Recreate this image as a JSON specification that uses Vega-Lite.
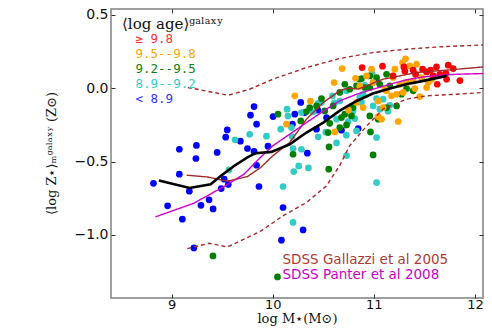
{
"$schema": "https://vega.github.io/schema/vega-lite/v6.json",
"width": 372, "height": 289,
"autosize": {"type": "none"},
"padding": {"left": 111, "top": 9, "right": 9, "bottom": 31},
"background": "white",
"config": {
 "view": {"stroke": "#808080", "strokeWidth": 1.5},
 "font": "DejaVu Sans",
 "axis": {"grid": false, "domain": false, "tickColor": "#333333", "tickSize": -4, "tickWidth": 1, "labelFont": "DejaVu Sans", "labelFontSize": 13, "labelColor": "#111111"}
},
"datasets": {
 "pts": [
  {"m":9.815,"z":-0.125,"a":"< 8.9"},{"m":9.78,"z":-0.184,"a":"< 8.9"},{"m":9.84,"z":-0.245,"a":"< 8.9"},{"m":9.55,"z":-0.284,"a":"< 8.9"},{"m":9.535,"z":-0.334,"a":"< 8.9"},{"m":9.68,"z":-0.361,"a":"< 8.9"},{"m":9.245,"z":-0.39,"a":"< 8.9"},{"m":9.076,"z":-0.416,"a":"< 8.9"},{"m":9.45,"z":-0.438,"a":"< 8.9"},{"m":9.75,"z":-0.411,"a":"< 8.9"},{"m":9.815,"z":-0.431,"a":"< 8.9"},{"m":9.24,"z":-0.479,"a":"< 8.9"},{"m":9.84,"z":-0.525,"a":"< 8.9"},{"m":9.076,"z":-0.586,"a":"< 8.9"},{"m":9.52,"z":-0.62,"a":"< 8.9"},{"m":8.82,"z":-0.648,"a":"< 8.9"},{"m":9.56,"z":-0.656,"a":"< 8.9"},{"m":9.49,"z":-0.684,"a":"< 8.9"},{"m":9.175,"z":-0.702,"a":"< 8.9"},{"m":9.864,"z":-0.67,"a":"< 8.9"},{"m":9.37,"z":-0.761,"a":"< 8.9"},{"m":8.96,"z":-0.802,"a":"< 8.9"},{"m":9.29,"z":-0.798,"a":"< 8.9"},{"m":9.41,"z":-0.823,"a":"< 8.9"},{"m":9.106,"z":-0.893,"a":"< 8.9"},{"m":9.22,"z":-1.089,"a":"< 8.9"},{"m":10.003,"z":-0.193,"a":"< 8.9"},{"m":10.277,"z":-0.097,"a":"< 8.9"},{"m":10.218,"z":-0.177,"a":"< 8.9"},{"m":10.317,"z":-0.166,"a":"< 8.9"},{"m":10.446,"z":-0.15,"a":"< 8.9"},{"m":10.532,"z":-0.2,"a":"< 8.9"},{"m":10.433,"z":-0.279,"a":"< 8.9"},{"m":10.195,"z":-0.245,"a":"< 8.9"},{"m":9.953,"z":-0.395,"a":"< 8.9"},{"m":10.342,"z":-0.443,"a":"< 8.9"},{"m":10.68,"z":-0.286,"a":"< 8.9"},{"m":10.845,"z":-0.275,"a":"< 8.9"},{"m":11.027,"z":0.048,"a":"< 8.9"},{"m":10.102,"z":-0.813,"a":"< 8.9"},{"m":10.3,"z":-0.966,"a":"< 8.9"},{"m":10.086,"z":-1.036,"a":"< 8.9"},
  {"m":10.983,"z":0.102,"a":"8.9--9.2"},{"m":10.911,"z":0.02,"a":"8.9--9.2"},{"m":10.591,"z":-0.052,"a":"8.9--9.2"},{"m":10.482,"z":-0.097,"a":"8.9--9.2"},{"m":10.399,"z":-0.162,"a":"8.9--9.2"},{"m":10.284,"z":-0.166,"a":"8.9--9.2"},{"m":10.142,"z":-0.143,"a":"8.9--9.2"},{"m":10.079,"z":-0.279,"a":"8.9--9.2"},{"m":9.938,"z":-0.327,"a":"8.9--9.2"},{"m":9.772,"z":-0.314,"a":"8.9--9.2"},{"m":10.185,"z":-0.268,"a":"8.9--9.2"},{"m":10.284,"z":-0.416,"a":"8.9--9.2"},{"m":10.449,"z":-0.331,"a":"8.9--9.2"},{"m":10.525,"z":-0.3,"a":"8.9--9.2"},{"m":10.631,"z":-0.373,"a":"8.9--9.2"},{"m":10.728,"z":-0.32,"a":"8.9--9.2"},{"m":10.812,"z":-0.207,"a":"8.9--9.2"},{"m":11.027,"z":-0.336,"a":"8.9--9.2"},{"m":10.73,"z":-0.459,"a":"8.9--9.2"},{"m":11.092,"z":-0.075,"a":"8.9--9.2"},{"m":11.158,"z":-0.116,"a":"8.9--9.2"},{"m":10.993,"z":-0.121,"a":"8.9--9.2"},{"m":10.663,"z":-0.087,"a":"8.9--9.2"},{"m":10.861,"z":-0.063,"a":"8.9--9.2"},{"m":11.14,"z":-0.157,"a":"8.9--9.2"},{"m":10.201,"z":-0.412,"a":"8.9--9.2"},{"m":10.257,"z":-0.53,"a":"8.9--9.2"},{"m":10.208,"z":-0.568,"a":"8.9--9.2"},{"m":10.353,"z":-0.543,"a":"8.9--9.2"},{"m":10.102,"z":-0.67,"a":"8.9--9.2"},{"m":10.201,"z":-0.915,"a":"8.9--9.2"},{"m":11.027,"z":-0.643,"a":"8.9--9.2"},{"m":10.829,"z":-0.291,"a":"8.9--9.2"},{"m":10.993,"z":0.039,"a":"8.9--9.2"},{"m":10.894,"z":-0.041,"a":"8.9--9.2"},{"m":11.027,"z":-0.07,"a":"8.9--9.2"},{"m":11.059,"z":-0.143,"a":"8.9--9.2"},{"m":10.878,"z":-0.097,"a":"8.9--9.2"},{"m":10.795,"z":-0.155,"a":"8.9--9.2"},{"m":9.627,"z":-0.352,"a":"8.9--9.2"},{"m":9.567,"z":-0.557,"a":"8.9--9.2"},{"m":10.61,"z":-0.1,"a":"8.9--9.2"},{"m":10.77,"z":-0.125,"a":"8.9--9.2"},{"m":10.746,"z":-0.227,"a":"8.9--9.2"},{"m":10.631,"z":-0.211,"a":"8.9--9.2"},{"m":10.15,"z":-0.19,"a":"8.9--9.2"},{"m":10.449,"z":-0.104,"a":"8.9--9.2"},{"m":10.73,"z":-0.018,"a":"8.9--9.2"},{"m":10.191,"z":-0.329,"a":"8.9--9.2"},
  {"m":10.482,"z":-0.07,"a":"9.2--9.5"},{"m":10.366,"z":-0.132,"a":"9.2--9.5"},{"m":10.334,"z":-0.159,"a":"9.2--9.5"},{"m":10.052,"z":-0.177,"a":"9.2--9.5"},{"m":10.557,"z":-0.4,"a":"9.2--9.5"},{"m":10.201,"z":-0.45,"a":"9.2--9.5"},{"m":10.993,"z":-0.455,"a":"9.2--9.5"},{"m":10.861,"z":0.061,"a":"9.2--9.5"},{"m":11.027,"z":0.073,"a":"9.2--9.5"},{"m":11.126,"z":0.095,"a":"9.2--9.5"},{"m":11.059,"z":0.027,"a":"9.2--9.5"},{"m":10.713,"z":0.027,"a":"9.2--9.5"},{"m":10.663,"z":-0.029,"a":"9.2--9.5"},{"m":10.762,"z":-0.007,"a":"9.2--9.5"},{"m":10.96,"z":0.005,"a":"9.2--9.5"},{"m":11.158,"z":0.016,"a":"9.2--9.5"},{"m":11.324,"z":-0.002,"a":"9.2--9.5"},{"m":11.389,"z":-0.018,"a":"9.2--9.5"},{"m":11.225,"z":-0.121,"a":"9.2--9.5"},{"m":10.96,"z":-0.189,"a":"9.2--9.5"},{"m":11.043,"z":-0.211,"a":"9.2--9.5"},{"m":10.967,"z":-0.298,"a":"9.2--9.5"},{"m":10.795,"z":-0.132,"a":"9.2--9.5"},{"m":10.713,"z":-0.177,"a":"9.2--9.5"},{"m":10.779,"z":-0.189,"a":"9.2--9.5"},{"m":10.515,"z":-0.155,"a":"9.2--9.5"},{"m":10.597,"z":-0.121,"a":"9.2--9.5"},{"m":10.68,"z":-0.2,"a":"9.2--9.5"},{"m":10.433,"z":-0.121,"a":"9.2--9.5"},{"m":10.663,"z":-0.268,"a":"9.2--9.5"},{"m":10.548,"z":-0.302,"a":"9.2--9.5"},{"m":10.277,"z":-0.223,"a":"9.2--9.5"},{"m":10.564,"z":-0.239,"a":"9.2--9.5"},{"m":10.73,"z":-0.25,"a":"9.2--9.5"},{"m":10.554,"z":-0.552,"a":"9.2--9.5"},{"m":10.047,"z":-1.286,"a":"9.2--9.5"},{"m":11.126,"z":-0.132,"a":"9.2--9.5"},{"m":10.878,"z":0.066,"a":"9.2--9.5"},{"m":10.911,"z":0.005,"a":"9.2--9.5"},{"m":11.274,"z":-0.041,"a":"9.2--9.5"},{"m":10.829,"z":0.016,"a":"9.2--9.5"},{"m":10.96,"z":0.084,"a":"9.2--9.5"},{"m":9.409,"z":-1.143,"a":"9.2--9.5"},
  {"m":10.686,"z":0.134,"a":"9.5--9.8"},{"m":10.607,"z":0.039,"a":"9.5--9.8"},{"m":10.218,"z":-0.052,"a":"9.5--9.8"},{"m":10.373,"z":-0.087,"a":"9.5--9.8"},{"m":11.284,"z":0.175,"a":"9.5--9.8"},{"m":11.314,"z":0.201,"a":"9.5--9.8"},{"m":11.208,"z":0.13,"a":"9.5--9.8"},{"m":11.356,"z":0.152,"a":"9.5--9.8"},{"m":11.423,"z":0.164,"a":"9.5--9.8"},{"m":10.819,"z":0.068,"a":"9.5--9.8"},{"m":10.928,"z":0.084,"a":"9.5--9.8"},{"m":10.977,"z":0.13,"a":"9.5--9.8"},{"m":10.993,"z":0.039,"a":"9.5--9.8"},{"m":11.191,"z":0.073,"a":"9.5--9.8"},{"m":11.257,"z":0.027,"a":"9.5--9.8"},{"m":11.324,"z":0.039,"a":"9.5--9.8"},{"m":11.389,"z":0.05,"a":"9.5--9.8"},{"m":11.472,"z":0.073,"a":"9.5--9.8"},{"m":11.538,"z":0.039,"a":"9.5--9.8"},{"m":11.522,"z":0.005,"a":"9.5--9.8"},{"m":11.455,"z":-0.057,"a":"9.5--9.8"},{"m":11.225,"z":-0.041,"a":"9.5--9.8"},{"m":11.29,"z":-0.029,"a":"9.5--9.8"},{"m":11.126,"z":-0.018,"a":"9.5--9.8"},{"m":11.175,"z":-0.052,"a":"9.5--9.8"},{"m":11.109,"z":-0.007,"a":"9.5--9.8"},{"m":10.894,"z":-0.132,"a":"9.5--9.8"},{"m":10.75,"z":-0.15,"a":"9.5--9.8"},{"m":10.829,"z":-0.097,"a":"9.5--9.8"},{"m":11.043,"z":-0.087,"a":"9.5--9.8"},{"m":11.092,"z":-0.132,"a":"9.5--9.8"},{"m":11.076,"z":-0.211,"a":"9.5--9.8"},{"m":11.241,"z":-0.227,"a":"9.5--9.8"},{"m":11.043,"z":-0.193,"a":"9.5--9.8"},{"m":10.136,"z":-0.245,"a":"9.5--9.8"},{"m":10.614,"z":-0.298,"a":"9.5--9.8"},{"m":11.406,"z":-0.002,"a":"9.5--9.8"},{"m":11.571,"z":0.061,"a":"9.5--9.8"},{"m":10.861,"z":0.014,"a":"9.5--9.8"},
  {"m":10.884,"z":0.141,"a":"≥ 9.8"},{"m":11.086,"z":0.15,"a":"≥ 9.8"},{"m":11.297,"z":0.145,"a":"≥ 9.8"},{"m":11.389,"z":0.123,"a":"≥ 9.8"},{"m":11.482,"z":0.13,"a":"≥ 9.8"},{"m":11.561,"z":0.123,"a":"≥ 9.8"},{"m":11.62,"z":0.145,"a":"≥ 9.8"},{"m":11.736,"z":0.157,"a":"≥ 9.8"},{"m":11.785,"z":0.134,"a":"≥ 9.8"},{"m":11.713,"z":0.102,"a":"≥ 9.8"},{"m":11.653,"z":0.095,"a":"≥ 9.8"},{"m":11.413,"z":0.095,"a":"≥ 9.8"},{"m":11.587,"z":0.084,"a":"≥ 9.8"},{"m":11.72,"z":0.061,"a":"≥ 9.8"},{"m":11.851,"z":0.052,"a":"≥ 9.8"},{"m":11.627,"z":0.027,"a":"≥ 9.8"},{"m":11.19,"z":0.084,"a":"≥ 9.8"},{"m":11.307,"z":0.116,"a":"≥ 9.8"},{"m":11.522,"z":0.111,"a":"≥ 9.8"}
 ],
 "lines": [
  {"s":"gal","v":"SDSS Gallazzi et al 2005","d":"solid","m":9.149,"z":-0.593},{"s":"gal","v":"SDSS Gallazzi et al 2005","d":"solid","m":9.353,"z":-0.605},{"s":"gal","v":"SDSS Gallazzi et al 2005","d":"solid","m":9.55,"z":-0.634},{"s":"gal","v":"SDSS Gallazzi et al 2005","d":"solid","m":9.75,"z":-0.602},{"s":"gal","v":"SDSS Gallazzi et al 2005","d":"solid","m":9.88,"z":-0.541},{"s":"gal","v":"SDSS Gallazzi et al 2005","d":"solid","m":10.0,"z":-0.461},{"s":"gal","v":"SDSS Gallazzi et al 2005","d":"solid","m":10.168,"z":-0.37},{"s":"gal","v":"SDSS Gallazzi et al 2005","d":"solid","m":10.334,"z":-0.211},{"s":"gal","v":"SDSS Gallazzi et al 2005","d":"solid","m":10.5,"z":-0.097},{"s":"gal","v":"SDSS Gallazzi et al 2005","d":"solid","m":10.66,"z":-0.018},{"s":"gal","v":"SDSS Gallazzi et al 2005","d":"solid","m":10.74,"z":0.0},{"s":"gal","v":"SDSS Gallazzi et al 2005","d":"solid","m":10.85,"z":-0.005},{"s":"gal","v":"SDSS Gallazzi et al 2005","d":"solid","m":11.09,"z":0.061},{"s":"gal","v":"SDSS Gallazzi et al 2005","d":"solid","m":11.42,"z":0.107},{"s":"gal","v":"SDSS Gallazzi et al 2005","d":"solid","m":11.75,"z":0.125},{"s":"gal","v":"SDSS Gallazzi et al 2005","d":"solid","m":12.08,"z":0.145},
  {"s":"hi","v":"SDSS Gallazzi et al 2005","d":"dash","m":9.16,"z":0.005},{"s":"hi","v":"SDSS Gallazzi et al 2005","d":"dash","m":9.56,"z":-0.048},{"s":"hi","v":"SDSS Gallazzi et al 2005","d":"dash","m":9.77,"z":-0.007},{"s":"hi","v":"SDSS Gallazzi et al 2005","d":"dash","m":10.0,"z":0.061},{"s":"hi","v":"SDSS Gallazzi et al 2005","d":"dash","m":10.334,"z":0.141},{"s":"hi","v":"SDSS Gallazzi et al 2005","d":"dash","m":10.66,"z":0.202},{"s":"hi","v":"SDSS Gallazzi et al 2005","d":"dash","m":10.99,"z":0.243},{"s":"hi","v":"SDSS Gallazzi et al 2005","d":"dash","m":11.32,"z":0.266},{"s":"hi","v":"SDSS Gallazzi et al 2005","d":"dash","m":11.65,"z":0.282},{"s":"hi","v":"SDSS Gallazzi et al 2005","d":"dash","m":12.08,"z":0.295},
  {"s":"lo","v":"SDSS Gallazzi et al 2005","d":"dash","m":9.155,"z":-1.093},{"s":"lo","v":"SDSS Gallazzi et al 2005","d":"dash","m":9.37,"z":-1.057},{"s":"lo","v":"SDSS Gallazzi et al 2005","d":"dash","m":9.55,"z":-1.082},{"s":"lo","v":"SDSS Gallazzi et al 2005","d":"dash","m":9.716,"z":-1.029},{"s":"lo","v":"SDSS Gallazzi et al 2005","d":"dash","m":9.88,"z":-0.975},{"s":"lo","v":"SDSS Gallazzi et al 2005","d":"dash","m":10.1,"z":-0.87},{"s":"lo","v":"SDSS Gallazzi et al 2005","d":"dash","m":10.334,"z":-0.779},{"s":"lo","v":"SDSS Gallazzi et al 2005","d":"dash","m":10.53,"z":-0.666},{"s":"lo","v":"SDSS Gallazzi et al 2005","d":"dash","m":10.66,"z":-0.53},{"s":"lo","v":"SDSS Gallazzi et al 2005","d":"dash","m":10.76,"z":-0.393},{"s":"lo","v":"SDSS Gallazzi et al 2005","d":"dash","m":10.93,"z":-0.257},{"s":"lo","v":"SDSS Gallazzi et al 2005","d":"dash","m":11.09,"z":-0.143},{"s":"lo","v":"SDSS Gallazzi et al 2005","d":"dash","m":11.32,"z":-0.075},{"s":"lo","v":"SDSS Gallazzi et al 2005","d":"dash","m":11.52,"z":-0.052},{"s":"lo","v":"SDSS Gallazzi et al 2005","d":"dash","m":11.82,"z":-0.041},{"s":"lo","v":"SDSS Gallazzi et al 2005","d":"dash","m":12.08,"z":-0.029},
  {"s":"pan","v":"SDSS Panter et al 2008","d":"solid","m":8.84,"z":-0.877},{"s":"pan","v":"SDSS Panter et al 2008","d":"solid","m":9.22,"z":-0.784},{"s":"pan","v":"SDSS Panter et al 2008","d":"solid","m":9.518,"z":-0.67},{"s":"pan","v":"SDSS Panter et al 2008","d":"solid","m":9.716,"z":-0.586},{"s":"pan","v":"SDSS Panter et al 2008","d":"solid","m":9.88,"z":-0.47},{"s":"pan","v":"SDSS Panter et al 2008","d":"solid","m":10.0,"z":-0.393},{"s":"pan","v":"SDSS Panter et al 2008","d":"solid","m":10.334,"z":-0.234},{"s":"pan","v":"SDSS Panter et al 2008","d":"solid","m":10.53,"z":-0.143},{"s":"pan","v":"SDSS Panter et al 2008","d":"solid","m":10.66,"z":-0.087},{"s":"pan","v":"SDSS Panter et al 2008","d":"solid","m":10.83,"z":-0.041},{"s":"pan","v":"SDSS Panter et al 2008","d":"solid","m":10.99,"z":-0.007},{"s":"pan","v":"SDSS Panter et al 2008","d":"solid","m":11.16,"z":0.027},{"s":"pan","v":"SDSS Panter et al 2008","d":"solid","m":11.32,"z":0.057},{"s":"pan","v":"SDSS Panter et al 2008","d":"solid","m":11.49,"z":0.077},{"s":"pan","v":"SDSS Panter et al 2008","d":"solid","m":11.65,"z":0.089},{"s":"pan","v":"SDSS Panter et al 2008","d":"solid","m":11.82,"z":0.095},{"s":"pan","v":"SDSS Panter et al 2008","d":"solid","m":12.08,"z":0.1}
 ],
 "med": [
  {"m":8.874,"z":-0.629},{"m":9.178,"z":-0.68},{"m":9.386,"z":-0.654},{"m":9.485,"z":-0.598},{"m":9.617,"z":-0.53},{"m":9.75,"z":-0.472},{"m":9.83,"z":-0.443},{"m":9.987,"z":-0.434},{"m":10.168,"z":-0.382},{"m":10.334,"z":-0.302},{"m":10.5,"z":-0.234},{"m":10.66,"z":-0.155},{"m":10.83,"z":-0.087},{"m":10.99,"z":-0.036},{"m":11.16,"z":-0.002},{"m":11.32,"z":0.027},{"m":11.49,"z":0.05},{"m":11.72,"z":0.084}
 ]
},
"layer": [
 {
  "data": {"name": "pts"},
  "mark": {"type": "circle", "size": 45, "opacity": 1},
  "encoding": {
   "x": {"field": "m", "type": "quantitative", "scale": {"domain": [8.4, 12.08], "nice": false, "zero": false},
    "axis": {"orient": "bottom", "values": [9, 10, 11, 12], "format": "d", "labelFontSize": 13, "labelPadding": 4, "title": "log M⋆(M⊙)", "titleFont": "DejaVu Serif", "titleFontSize": 13, "titleFontWeight": "normal", "titleColor": "#111111", "titleY": 20, "titleBaseline": "middle"}},
   "y": {"field": "z", "type": "quantitative", "scale": {"domain": [-1.43, 0.54], "nice": false, "zero": false},
    "axis": {"orient": "left", "values": [-1, -0.5, 0, 0.5], "format": ".1f", "labelFontSize": 14, "labelPadding": 7, "title": "⟨log Z⋆⟩ₘᵍᵃˡᵃˣʸ (Z⊙)", "titleFont": "DejaVu Serif", "titleFontSize": 13, "titleFontWeight": "normal", "titleColor": "#111111", "titleX": -60, "titleY": 144, "titleAngle": -90, "titleAlign": "center", "titleBaseline": "middle"}},
   "color": {"field": "a", "type": "nominal",
    "scale": {"domain": ["≥ 9.8", "9.5--9.8", "9.2--9.5", "8.9--9.2", "< 8.9"], "range": ["#ff0000", "#ffa500", "#008000", "#33ccc4", "#0000ff"]},
    "legend": {"title": "⟨log age⟩ᵍᵃˡᵃˣʸ", "orient": "none", "legendX": 11, "legendY": 7.5, "padding": 0, "titleFont": "DejaVu Serif", "titleFontSize": 15, "titleFontWeight": "normal", "titleColor": "#111111", "titlePadding": 1.5, "labelFont": "DejaVu Sans Mono", "labelFontSize": 12.5, "labelOffset": 1, "rowPadding": 2, "symbolSize": 0, "symbolOpacity": 0, "symbolStrokeWidth": 0,
     "labelColor": {"expr": "datum.value == '≥ 9.8' ? '#ff3030' : datum.value == '9.5--9.8' ? '#ffa500' : datum.value == '9.2--9.5' ? '#108010' : datum.value == '8.9--9.2' ? '#33ccc4' : '#3030ff'"}}}
  }
 },
 {
  "data": {"name": "lines"},
  "mark": {"type": "line", "strokeWidth": 1.4, "clip": true},
  "encoding": {
   "x": {"field": "m", "type": "quantitative", "scale": {"domain": [8.4, 12.08], "nice": false, "zero": false},
    "axis": {"orient": "top", "values": [9, 10, 11, 12], "labels": false, "title": null}},
   "y": {"field": "z", "type": "quantitative", "scale": {"domain": [-1.43, 0.54], "nice": false, "zero": false},
    "axis": {"orient": "right", "values": [-1, -0.5, 0, 0.5], "labels": false, "title": null}},
   "stroke": {"field": "v", "type": "nominal",
    "scale": {"domain": ["SDSS Gallazzi et al 2005", "SDSS Panter et al 2008"], "range": ["#a52a2a", "#cc00cc"]},
    "legend": {"title": null, "orient": "none", "legendX": 157, "legendY": 244, "padding": 0, "labelFont": "DejaVu Sans", "labelFontSize": 13.5, "labelLimit": 400, "labelOffset": 1, "rowPadding": 0.5, "symbolSize": 0, "symbolOpacity": 0, "symbolStrokeWidth": 0,
     "labelColor": {"expr": "datum.value == 'SDSS Gallazzi et al 2005' ? '#b03a3a' : '#cc00cc'"}}},
   "strokeDash": {"field": "d", "type": "nominal", "scale": {"domain": ["solid", "dash"], "range": [[1, 0], [4, 3]]}, "legend": null},
   "detail": {"field": "s"}
  }
 },
 {
  "data": {"name": "med"},
  "mark": {"type": "line", "color": "black", "strokeWidth": 2.6, "clip": true},
  "encoding": {
   "x": {"field": "m", "type": "quantitative", "scale": {"domain": [8.4, 12.08], "nice": false, "zero": false}, "axis": null},
   "y": {"field": "z", "type": "quantitative", "scale": {"domain": [-1.43, 0.54], "nice": false, "zero": false}, "axis": null}
  }
 }
],
"resolve": {"axis": {"x": "independent", "y": "independent"}}
}
